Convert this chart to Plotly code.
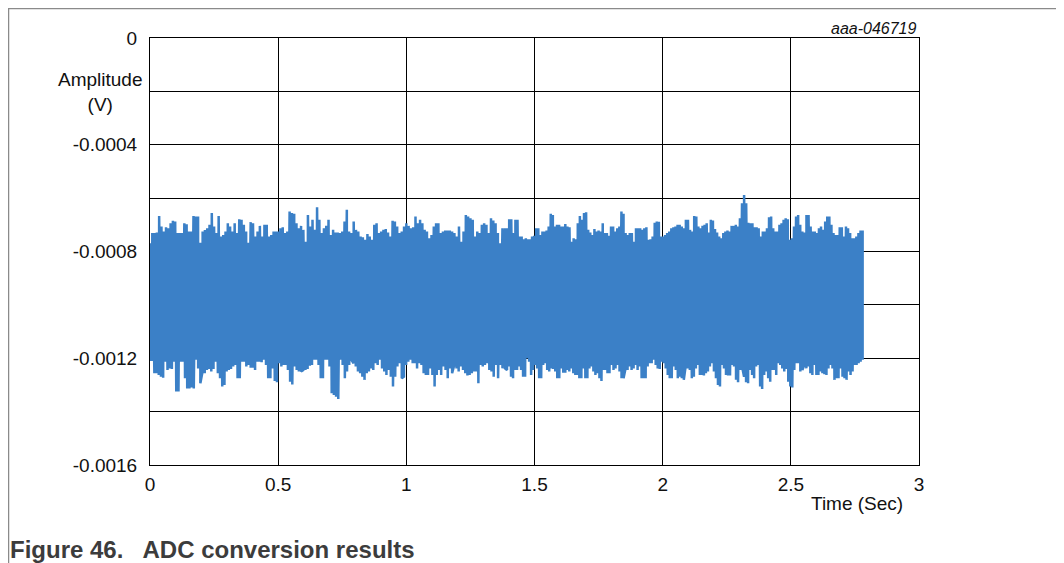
import numpy as np
import plotly.graph_objects as go

# ADC samples, read off the picture as upper/lower peaks of the noise band (microvolts)
# first half of the record (0 - 1.375 s)
upper_a = [
    -769, -731, -731, -729, -667, -706, -725, -709, -713, -694, -685, -688, -731, -731, -731,
    -694, -698, -725, -725, -667, -669, -669, -767, -725, -719, -713, -700, -656, -706, -731,
    -667, -744, -738, -725, -694, -706, -725, -694, -731, -679, -681, -700, -725, -767, -690,
    -694, -744, -725, -704, -744, -700, -700, -744, -738, -725, -725, -725, -713, -709, -731,
    -725, -650, -656, -659, -694, -713, -704, -719, -763, -663, -706, -681, -719, -634, -681,
    -731, -713, -704, -681, -738, -719, -729, -729, -731, -725, -688, -644, -725, -731, -688,
    -719, -725, -744, -747, -756, -734, -744, -756, -700, -694, -731, -725, -719, -716, -729,
    -744, -685, -688, -706, -731, -725, -706, -694, -704, -713, -709, -669, -694, -681, -694,
    -719, -725, -750, -738, -706, -694, -694, -731, -725, -721, -721, -721, -725, -731, -744,
    -706, -763, -725, -663, -669, -675, -681, -744, -725, -731, -700, -694, -700, -731, -675,
    -684, -694, -731, -769, -713,
]
lower_a = [
    -1206, -1206, -1256, -1256, -1263, -1269, -1273, -1213, -1244, -1238, -1240, -1213, -1325,
    -1325, -1213, -1213, -1275, -1313, -1313, -1310, -1313, -1206, -1238, -1294, -1250, -1256,
    -1244, -1240, -1250, -1240, -1213, -1256, -1275, -1306, -1300, -1250, -1244, -1240, -1231,
    -1225, -1275, -1275, -1213, -1213, -1231, -1225, -1231, -1231, -1244, -1213, -1213, -1215,
    -1206, -1225, -1275, -1275, -1238, -1285, -1290, -1219, -1231, -1225, -1225, -1244, -1288,
    -1298, -1231, -1244, -1250, -1250, -1244, -1244, -1240, -1228, -1225, -1206, -1206, -1225,
    -1275, -1275, -1206, -1206, -1231, -1331, -1338, -1344, -1353, -1206, -1225, -1275, -1250,
    -1225, -1206, -1219, -1231, -1250, -1256, -1269, -1281, -1256, -1250, -1238, -1244, -1219,
    -1225, -1206, -1238, -1250, -1263, -1244, -1269, -1306, -1269, -1231, -1219, -1275, -1269,
    -1225, -1213, -1206, -1219, -1219, -1238, -1219, -1225, -1256, -1263, -1263, -1238, -1263,
    -1306, -1263, -1244, -1263, -1231, -1244, -1275, -1238, -1256, -1225, -1238, -1250, -1231,
    -1244, -1256, -1265, -1263, -1256, -1250, -1250, -1294, -1225, -1231, -1225, -1219, -1244,
    -1250, -1269, -1225, -1275, -1225, -1238,
]

# second half of the record (1.385 - 2.78 s)
upper_b = [
    -713, -713, -679, -679, -731, -681, -681, -744, -744, -754, -750, -754, -754, -744, -741,
    -713, -713, -738, -725, -725, -721, -706, -659, -663, -706, -700, -700, -706, -706, -697,
    -706, -709, -763, -750, -754, -694, -667, -681, -656, -653, -719, -729, -738, -716, -725,
    -721, -725, -694, -731, -731, -741, -706, -706, -725, -713, -706, -650, -659, -731, -738,
    -731, -731, -763, -713, -713, -713, -719, -713, -709, -756, -754, -744, -692, -688, -689,
    -744, -744, -738, -731, -725, -713, -709, -706, -700, -700, -706, -713, -681, -681, -719,
    -725, -667, -669, -706, -713, -704, -700, -694, -729, -681, -684, -716, -729, -744, -750,
    -731, -725, -721, -725, -704, -704, -700, -706, -675, -619, -588, -619, -692, -694, -694,
    -709, -709, -713, -744, -725, -725, -713, -672, -669, -713, -725, -725, -700, -694, -681,
    -675, -679, -756, -750, -706, -669, -663, -700, -725, -729, -663, -663, -706, -725, -725,
    -731, -713, -706, -719, -688, -669, -669, -700, -731, -738, -738, -709, -709, -744, -706,
    -713, -731, -750, -750, -744, -731, -721, -721,
]
lower_b = [
    -1238, -1244, -1231, -1269, -1275, -1244, -1244, -1231, -1244, -1269, -1269, -1200, -1213,
    -1263, -1244, -1225, -1238, -1275, -1275, -1225, -1219, -1244, -1250, -1238, -1240, -1250,
    -1275, -1275, -1238, -1250, -1250, -1244, -1250, -1238, -1256, -1263, -1263, -1275, -1275,
    -1238, -1275, -1275, -1238, -1231, -1250, -1263, -1256, -1275, -1285, -1244, -1244, -1256,
    -1256, -1225, -1244, -1238, -1225, -1250, -1275, -1275, -1238, -1244, -1231, -1244, -1238,
    -1225, -1244, -1231, -1275, -1275, -1275, -1231, -1219, -1219, -1206, -1225, -1238, -1240,
    -1213, -1219, -1238, -1263, -1275, -1275, -1231, -1244, -1275, -1269, -1275, -1281, -1225,
    -1238, -1244, -1275, -1269, -1238, -1225, -1263, -1263, -1265, -1256, -1250, -1231, -1219,
    -1250, -1275, -1300, -1306, -1225, -1238, -1263, -1265, -1265, -1225, -1231, -1281, -1290,
    -1244, -1231, -1269, -1290, -1294, -1244, -1263, -1275, -1231, -1225, -1306, -1315, -1263,
    -1250, -1275, -1288, -1244, -1244, -1263, -1219, -1225, -1238, -1250, -1240, -1288, -1306,
    -1310, -1244, -1219, -1219, -1250, -1244, -1225, -1238, -1231, -1256, -1263, -1225, -1263,
    -1263, -1250, -1256, -1260, -1263, -1238, -1225, -1238, -1281, -1275, -1275, -1238, -1269,
    -1275, -1281, -1250, -1263, -1250, -1225, -1225, -1219, -1213, -1206,
]

span_a = (0.0, 1.375)   # s
span_b = (1.385, 2.78)  # s

x_ticks = [0, 0.5, 1, 1.5, 2, 2.5, 3]
y_ticks = [0, -0.0002, -0.0004, -0.0006, -0.0008, -0.001, -0.0012, -0.0014, -0.0016]
y_tick_text = ['0', '', '-0.0004', '', '-0.0008', '', '-0.0012', '', '-0.0016']

# alternate upper and lower peaks in time order -> dense zig-zag like the ADC trace
ts, vs = [], []
for vals, span in [(upper_a, span_a), (lower_a, span_a), (upper_b, span_b), (lower_b, span_b)]:
    ts.append(np.linspace(span[0], span[1], len(vals)))
    vs.append(np.array(vals) * 1e-6)
t_all = np.concatenate(ts)
v_all = np.concatenate(vs)
order = np.argsort(t_all, kind='stable')

fig = go.Figure()
fig.add_trace(go.Scatter(
    x=t_all[order], y=v_all[order],
    mode='lines',
    line=dict(color='#3b80c7', width=2.5),
    showlegend=False,
))

font = 'Liberation Sans, Arial, sans-serif'

# page body has an 8px margin, so the figure is 8px smaller than the window
fig.update_layout(
    width=1056, height=555,
    margin=dict(l=142, r=145, t=30, b=98),
    paper_bgcolor='white', plot_bgcolor='white',
    font=dict(family=font, size=19, color='#111111'),
    xaxis=dict(
        range=[0, 3], tickvals=x_ticks, ticktext=[str(v) for v in x_ticks],
        showgrid=True, gridcolor='#000000', gridwidth=1,
        showline=True, linecolor='#000000', linewidth=1, mirror=True,
        zeroline=False, ticks='', ticklen=0, ticklabelstandoff=2,
    ),
    yaxis=dict(
        range=[-0.0016, 0], tickvals=y_ticks, ticktext=y_tick_text,
        showgrid=True, gridcolor='#000000', gridwidth=1,
        showline=True, linecolor='#000000', linewidth=1, mirror=True,
        zeroline=False, ticks='', ticklen=0, ticklabelstandoff=8,
    ),
    annotations=[
        dict(text='Amplitude<br>(V)', x=-0.065, y=0.874, xref='paper', yref='paper',
             xanchor='center', yanchor='middle',
             showarrow=False, font=dict(size=19), align='center'),
        dict(text='Time (Sec)', x=0.919, y=-0.091, xref='paper', yref='paper',
             xanchor='center', yanchor='middle', showarrow=False, font=dict(size=19)),
        dict(text='<i>aaa-046719</i>', x=1.0, y=1.023, xref='paper', yref='paper',
             xanchor='right', yanchor='middle', showarrow=False, font=dict(size=16)),
        dict(text='<b>Figure 46.   ADC conversion results</b>', x=-0.1847, y=-0.197,
             xref='paper', yref='paper', xanchor='left', yanchor='middle', showarrow=False,
             font=dict(size=24, color='#3c3c3c')),
    ],
    shapes=[
        dict(type='path', xref='paper', yref='paper',
             path='M -0.184 -0.3 L -0.184 1.069 L 1.185 1.069 L 1.185 -0.3',
             line=dict(color='#8a8a8a', width=1.5)),
    ],
)

fig.write_html("out.html")
